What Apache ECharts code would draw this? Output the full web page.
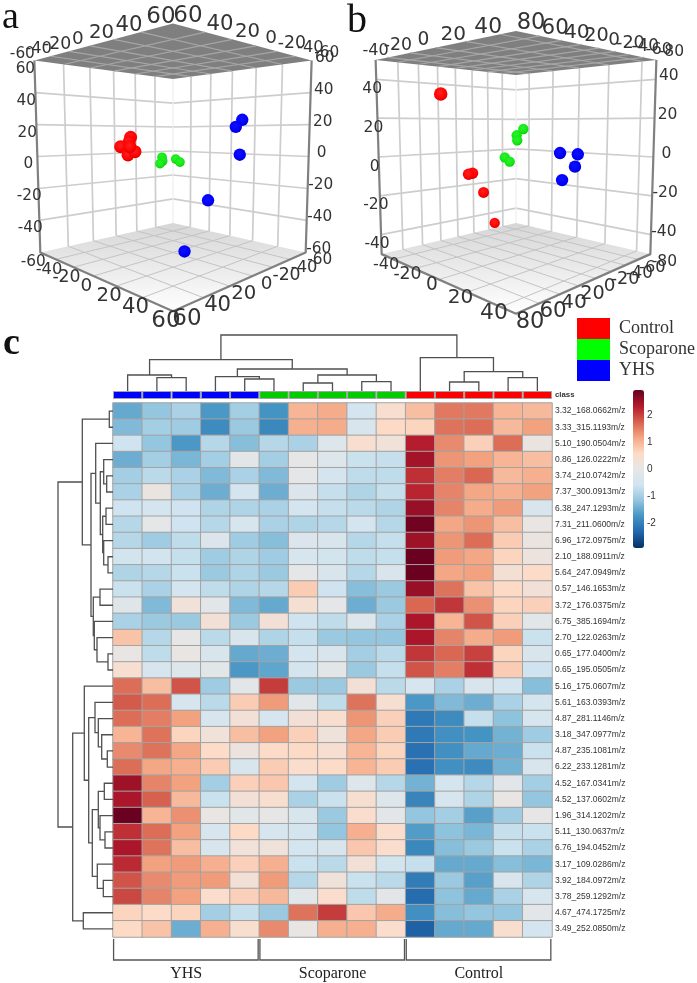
<!DOCTYPE html>
<html><head><meta charset="utf-8">
<style>html,body{margin:0;padding:0;background:#fff}#c{width:697px;height:983px}</style>
<script src="https://cdn.jsdelivr.net/npm/echarts@6/dist/echarts.min.js"></script>
</head><body><div id="c"></div>
<script>
// ---------- data ----------
const sampleClasses = ['YHS','YHS','YHS','YHS','YHS','Scoparone','Scoparone','Scoparone','Scoparone','Scoparone','Control','Control','Control','Control','Control'];
const features = ['3.32_168.0662m/z','3.33_315.1193m/z','5.10_190.0504m/z','0.86_126.0222m/z','3.74_210.0742m/z','7.37_300.0913m/z','6.38_247.1293m/z','7.31_211.0600m/z','6.96_172.0975m/z','2.10_188.0911m/z','5.64_247.0949m/z','0.57_146.1653m/z','3.72_176.0375m/z','6.75_385.1694m/z','2.70_122.0263m/z','0.65_177.0400m/z','0.65_195.0505m/z','5.16_175.0607m/z','5.61_163.0393m/z','4.87_281.1146m/z','3.18_347.0977m/z','4.87_235.1081m/z','6.22_233.1281m/z','4.52_167.0341m/z','4.52_137.0602m/z','1.96_314.1202m/z','5.11_130.0637m/z','6.76_194.0452m/z','3.17_109.0286m/z','3.92_184.0972m/z','3.78_259.1292m/z','4.67_474.1725m/z','3.49_252.0850m/z'];
const heatValues = [
[-1.5,-1.15,-.95,-1.7,-1,-1.75,1,1.1,-.5,.45,.9,1.55,1.55,1,.95],
[-1.3,-1,-1.05,-1.85,-1.1,-1.9,1.05,1.1,-.4,.6,.65,1.6,1.65,.95,1.2],
[-.6,-1.15,-1.7,-.85,-1.25,-.85,-.95,-.25,.45,.25,2.3,1.4,.7,1.65,.1],
[-1.45,-1,-1.35,-1,-.1,-1,0,-.25,-.65,-.7,2.45,1.3,1.2,1,.9],
[-1,-.8,-.95,-1.3,-.95,-1.3,-.05,-.5,-.75,-.75,2.15,1.5,1.7,.95,1.05],
[-.95,.1,-.95,-1.45,-.5,-1.45,-.3,-.7,-.9,-.7,2.25,1.45,1.15,1.05,1.2],
[-.6,-.5,-.6,-.9,-.9,-.95,-.5,-.7,-.8,-.9,2.55,1.45,1.1,1.25,-.35],
[-.85,-.05,-.6,-.85,-.45,-.95,-.9,-.85,-.5,-.85,2.85,1.15,1.3,.9,.05],
[-.85,-1.05,-.75,-.3,-1.05,-1.25,-.3,-.35,-.85,-.7,2.5,1.3,1.65,.75,.1],
[-.55,-.55,-.7,-1.05,-.9,-1.05,-.45,-.55,-.75,-.7,2.9,1.25,1.15,.65,.15],
[-.9,-.85,-.65,-1.1,-.9,-1.1,-.05,-.35,-.85,-.35,2.9,1.15,1.2,.35,.55],
[-.65,-.95,-.5,-.75,-.9,-.85,.75,-.6,-1.25,-1.1,2.55,1.6,.85,.6,.3],
[-.2,-1.3,.25,-.1,-1.3,-1.5,.35,-.05,-1.45,-1.1,1.7,2.1,1.35,.65,.7],
[-.95,-1.1,-1.1,.3,-1.1,.3,-.6,-.75,-.25,-.95,2.4,1,1.85,.7,-.15],
[.85,-.85,0,-.8,-.4,-.9,-.7,-1.1,-1.15,-1.15,2.4,1.45,1.1,1.25,-.65],
[.05,-.75,.05,-.35,-1.5,-1.45,-.5,-.35,-1,-.8,2.1,1.7,2,.65,-.4],
[.4,-.45,-.25,-.15,-1.7,-1.55,-.5,-.1,-1.1,-.7,1.85,1.5,2.15,.75,-.6],
[1.65,.9,1.85,-1.05,-.1,2.05,-1.1,-1.1,.3,-.8,-.45,-.95,-.4,-.5,-1.25],
[1.8,1.65,-.45,-.8,.75,1.25,-.15,-.75,1.6,.4,-1.7,-1.3,-1.45,-.95,-.5],
[1.65,1.5,1.2,-.45,.3,-.45,.3,.45,1.3,.7,-2.1,-1.85,-.7,-1.2,-.45],
[1,1.6,.65,.25,.9,1.2,.7,.2,1.15,.75,-2.1,-1.8,-1.75,-1.4,-1.05],
[1.4,1.6,1.15,.55,.15,.55,.6,.4,1,.65,-2.2,-1.8,-1.5,-1.45,-.65],
[1.65,1.15,1.05,.75,-.35,.75,.5,.55,1,.75,-2.2,-1.8,-1.85,-1.4,-.35],
[2.5,1.45,1.2,-1,.7,.8,-.5,-1.05,-.25,-.85,-1.4,-.5,-.85,-.1,-1],
[2.4,1.75,.95,-.65,.3,.45,-.95,-.65,.4,-.25,-1.95,-.45,-.9,.05,-1.15],
[2.9,1,1.35,.05,-.15,0,-.4,-1.1,.5,-.1,-1.15,-1,-1.6,-1.05,0],
[2.15,1.65,1.2,-.45,.6,-.45,-.5,-1.15,1.05,.5,-1.65,-1.2,-1.35,-.7,-.65],
[2.4,1.6,.9,-.35,.25,.2,-.5,-.4,.8,.5,-1.9,-1.25,-1.1,-.65,-.95],
[2.2,1.2,1.25,1.05,.7,1.05,-.65,-.8,.3,-.55,-.7,-1.5,-1.5,-1.25,-1.35],
[1.85,1.4,1.25,1.25,.3,1.25,-.85,.2,-.65,-.8,-2.05,-1.1,-1.6,-.4,-.9],
[1.95,1.45,1.2,.5,.7,.95,-.15,.5,-.75,-.1,-2.25,-1.2,-1.5,-.95,-.45],
[.65,.55,.65,-1,-.7,-1.1,1.6,2.05,.8,1.1,-1.8,-1.25,-1.15,-1.15,-.1],
[.6,.85,-1.45,1.05,.45,1.4,.05,1.05,1.05,.5,-2.4,-1.5,-1.5,.45,-.5]
];
// dendrograms: [height, childA, childB]; a plain number is a leaf index
const colTree = [56,
  [31.3,[16,0,[13.3,1,2]],[22,[14.3,3,[12,4,5]],[16,[8,6,7],[9.3,8,9]]]],
  [33.3,10,[19.3,[9,11,12],[13.3,13,14]]]];
const rowTree = [55,
  [30.7,[3.7,0,1],[22,
    [17.3,2,[12.7,[9.3,3,[6.3,4,5]],[10.3,[7,6,7],[9.3,8,[5,9,10]]]]],
    [19.7,[13,11,12],[18.7,13,[16,14,[5,15,16]]]]]],
  [40.3,
    [28.7,17,[24.3,
      [18,18,[14.7,19,[11.3,20,[5.7,21,22]]]],
      [20.7,[14.7,[8.7,23,24],[13,25,[8,26,27]]],[15.7,28,[9.7,29,30]]]]],
    [29.7,31,32]]];
// PCA scores (component 1, component 2, component 3)
const aControl = [[6.6,39.2,12.2],[6.1,39.8,9.8],[2.8,43.1,7.1],[5.6,40.3,2.6],[8.3,37.6,4.4],[6.3,39.5,7.1]];
const aScoparone = [[-36.2,-24.8,-2.9],[-35.9,-25.2,-5.6],[-37.3,-23.8,-7.6],[-29.2,-32,-4.2],[-26.9,-34.1,-6.4]];
const aYHS = [[43.1,-12.5,22.2],[40.5,-10,18.1],[42.3,-11.7,2.2],[29.6,1,-23.9],[20,10.5,-53.2]];
const bControl = [[-.1,76.2,30.1],[-17.9,25.4,-8.4],[-19.3,27.8,-8.9],[-21.5,8.6,-19.8],[-28.4,-14.2,-39.6]];
const bScoparone = [[-16.75,-33,14.1],[-19.4,-28.7,10.5],[-19.2,-29.1,7.6],[-24.25,-21,-2.1],[-22.25,-24.2,-4.6]];
const bYHS = [[24.8,-4.5,3.2],[30.8,-14,2.6],[29.9,-12.6,-3.3],[25.6,-5.7,-9.7]];
const aTicks = {u:[-60,-40,-20,0,20,40,60], v:[-60,-40,-20,0,20,40,60], w:[-60,-40,-20,0,20,40,60]};
const bTicks = {u:[-40,-20,0,20,40], v:[-80,-60,-40,-20,0,20,40,60,80], w:[-40,-20,0,20,40]};
const colorbarTicks = [-2,-1,0,1,2];
const groupOrder = ['YHS','Scoparone','Control'];
const legendOrder = ['Control','Scoparone','YHS'];

// ---------- helpers ----------
const classColor = {YHS:'#0000ff',Scoparone:'#00cc00',Control:'#ff0000'};
const sphere = {
  Control:['#ff2020','#ff0000','#d80000'],
  Scoparone:['#30f030','#10e810','#00c800'],
  YHS:['#1010ff','#0000f8','#0000d0']
};
const series = [];
function poly(gi, lines, style, z){
  series.push({type:'custom',coordinateSystem:'cartesian2d',xAxisIndex:gi,yAxisIndex:gi,silent:true,clip:false,z:z||2,
    data:lines.map(()=>[0,0]),
    renderItem:(p,api)=>({type:'polyline',shape:{points:lines[p.dataIndex].map(q=>api.coord(q))},style:Object.assign({fill:null},style)})});
}
function labels(gi, items, z){
  series.push({type:'custom',coordinateSystem:'cartesian2d',xAxisIndex:gi,yAxisIndex:gi,silent:true,clip:false,z:z||5,
    data:items.map(()=>[0,0]),
    renderItem:(p,api)=>{const t=items[p.dataIndex],c=api.coord([t.x,t.y]);
      return {type:'text',x:c[0],y:c[1],style:{text:t.text,font:t.font,fill:t.fill||'#333',align:'center',verticalAlign:'middle'}};}});
}
function treeLines(node, toPoint){
  const out=[];
  (function walk(n){
    if(typeof n==='number') return {pos:n+0.5,h:0};
    const a=walk(n[1]),b=walk(n[2]);
    out.push([toPoint(a.pos,a.h),toPoint(a.pos,n[0]),toPoint(b.pos,n[0]),toPoint(b.pos,b.h)]);
    return {pos:(a.pos+b.pos)/2,h:n[0]};
  })(node);
  return out;
}
function panel(gi, cam, rng, ticks, off, groups){
  const nu=x=>(x-rng.uc)/rng.uh, nv=x=>(x-rng.vc)/rng.vh, nw=x=>(x-rng.wc)/rng.wh;
  const proj=(u,v,w)=>{
    const d=(u+v)/Math.SQRT2,p=(u-v)/Math.SQRT2,s=cam.f/(cam.D-d);
    return [cam.cx+s*p*(1+cam.k*w), cam.cy-s*(w-cam.e*d), s];
  };
  const P=(u,v,w)=>proj(u,v,w).slice(0,2);
  // floor and ceiling
  const floorPts=[P(-1,1,-1),P(-1,-1,-1),P(1,-1,-1),P(1,1,-1)];
  series.push({type:'custom',coordinateSystem:'cartesian2d',xAxisIndex:gi,yAxisIndex:gi,silent:true,clip:false,z:1,data:[[0,0]],
    renderItem:(p,api)=>({type:'polygon',shape:{points:floorPts.map(q=>api.coord(q))},
      style:{fill:new echarts.graphic.LinearGradient(0,0,0,1,[{offset:0,color:'#d6d6d6'},{offset:1,color:'#ffffff'}])}})});
  const ceilPts=[P(-1,1,1),P(-1,-1,1),P(1,-1,1),P(1,1,1)];
  series.push({type:'custom',coordinateSystem:'cartesian2d',xAxisIndex:gi,yAxisIndex:gi,silent:true,clip:false,z:1,data:[[0,0]],
    renderItem:(p,api)=>({type:'polygon',shape:{points:ceilPts.map(q=>api.coord(q))},style:{fill:'#7f7f7f'}})});
  // wall grid
  const wall=[];
  ticks.w.forEach(t=>{const w=nw(t); if(Math.abs(w)<.999) wall.push([P(-1,1,w),P(-1,-1,w),P(1,-1,w)]);});
  ticks.v.forEach(t=>{const v=nv(t); if(Math.abs(v)<.999) wall.push([P(-1,v,-1),P(-1,v,1)]);});
  ticks.u.forEach(t=>{const u=nu(t); if(Math.abs(u)<.999) wall.push([P(u,-1,-1),P(u,-1,1)]);});
  poly(gi,wall,{stroke:'#cdcdcd',lineWidth:1.7});
  const fl=[],ce=[];
  ticks.u.forEach(t=>{const u=nu(t); if(Math.abs(u)<.999){fl.push([P(u,-1,-1),P(u,1,-1)]);ce.push([P(u,-1,1),P(u,1,1)]);}});
  ticks.v.forEach(t=>{const v=nv(t); if(Math.abs(v)<.999){fl.push([P(-1,v,-1),P(1,v,-1)]);ce.push([P(-1,v,1),P(1,v,1)]);}});
  poly(gi,fl,{stroke:'#c4c4c4',lineWidth:1});
  poly(gi,ce,{stroke:'#a6a6a6',lineWidth:1.2});
  poly(gi,[[P(-1,-1,1),P(-1,-1,-1)]],{stroke:'#efefef',lineWidth:1.2});
  poly(gi,[[P(-1,1,1),P(-1,1,-1),P(1,1,-1),P(1,-1,-1),P(1,-1,1)]],{stroke:'#808080',lineWidth:2.2,lineJoin:'round'});
  // tick labels
  const items=[];
  const add=(pos,o,text)=>items.push({x:pos[0]+o[0],y:pos[1]+o[1],text:String(text),font:(0.16*pos[2]).toFixed(1)+'px "DejaVu Sans"'});
  ticks.u.forEach(t=>{const u=nu(t); add(proj(u,1,-1),off.bl,t); add(proj(u,1,1),[-12,-7],t);});
  ticks.v.forEach(t=>{const v=nv(t); add(proj(1,v,-1),[14,8],t); add(proj(1,v,1),[15,-8],t);});
  ticks.w.forEach(t=>{const w=nw(t);
    if(w>-.999) add(proj(-1,1,w),off.left,t);
    add(proj(1,-1,w),[13,-3],t);
  });
  labels(gi,items,5);
  // score points
  groups.forEach(([name,rows])=>{
    const c=sphere[name];
    series.push({type:'scatter',name,xAxisIndex:gi,yAxisIndex:gi,z:6,silent:true,clip:false,
      data:rows.map(r=>{const q=proj(nu(r[0]),nv(r[1]),nw(r[2]));return [q[0],q[1],0.118*q[2]];}),
      symbolSize:d=>d[2],
      itemStyle:{opacity:1,color:{type:'radial',x:.45,y:.4,r:.6,colorStops:[{offset:0,color:c[0]},{offset:.75,color:c[1]},{offset:1,color:c[2]}]}}});
  });
}

// ---------- axes ----------
const hidden=(min,max,inverse)=>({type:'value',show:false,min,max,inverse:!!inverse});
const grids=[
  {left:113,top:403,width:439,height:534},   //0 heat
  {left:113,top:391,width:439,height:8},     //1 class strip
  {left:113,top:331,width:439,height:60},    //2 column tree
  {left:53,top:403,width:60,height:534},     //3 row tree
  {left:633,top:388,width:11,height:162},    //4 colour ticks
  {left:0,top:0,width:340,height:330},       //5 panel a
  {left:340,top:0,width:357,height:330},     //6 panel b
  {left:113,top:939,width:439,height:42}     //7 brackets
].map(g=>Object.assign({containLabel:false,show:false},g));
const xAxes=[
  {type:'category',data:sampleClasses.map((_,i)=>i),show:false},
  {type:'category',data:sampleClasses.map((_,i)=>i),show:false},
  hidden(0,15), hidden(0,60,true), hidden(0,1), hidden(0,340), hidden(0,357), hidden(0,15)
].map((a,i)=>Object.assign(a,{gridIndex:i}));
const yAxes=[
  {type:'category',data:features,inverse:true,position:'right',axisLine:{show:false},axisTick:{show:false},
   axisLabel:{interval:0,fontSize:8.5,margin:3,color:'#333',fontFamily:'Liberation Sans'}},
  hidden(0,1), hidden(0,60), hidden(0,33,true),
  {type:'value',min:-3,max:3,interval:1,position:'right',axisLine:{show:false},axisTick:{show:false},splitLine:{show:false},
   axisLabel:{margin:3,fontSize:10,color:'#333',fontFamily:'Liberation Sans',
     formatter:v=>colorbarTicks.includes(v)?String(v):''}},
  hidden(0,330,true), hidden(0,330,true), hidden(0,2,true)
].map((a,i)=>Object.assign(a,{gridIndex:i}));

// ---------- heatmap ----------
series.push({type:'heatmap',xAxisIndex:0,yAxisIndex:0,silent:true,z:2,
  data:heatValues.flatMap((row,r)=>row.map((v,c)=>[c,r,v])),
  itemStyle:{borderColor:'#a3a3a3',borderWidth:1},progressive:0});
series.push({type:'bar',xAxisIndex:1,yAxisIndex:1,barWidth:'100%',silent:true,
  data:sampleClasses.map(c=>({value:1,itemStyle:{color:classColor[c],borderColor:'#a3a3a3',borderWidth:1}}))});
poly(2,treeLines(colTree,(pos,h)=>[pos,h]),{stroke:'#505050',lineWidth:1.3});
poly(3,treeLines(rowTree,(pos,h)=>[h,pos]),{stroke:'#505050',lineWidth:1.3});

// ---------- group brackets ----------
const brackets=groupOrder.map(g=>{
  const a=sampleClasses.indexOf(g),b=sampleClasses.lastIndexOf(g)+1;
  return {name:g,a,b};
});
poly(7,brackets.map(k=>[[k.a+.02,0],[k.a+.02,1],[k.b-.04,1],[k.b-.04,0]]),{stroke:'#555',lineWidth:1.3});
labels(7,brackets.map(k=>({x:(k.a+k.b)/2,y:1.67,text:k.name,font:'16px "Liberation Serif"','fill':'#222'})));

// ---------- 3D panels ----------
panel(5,{cx:173,cy:156.5,f:407,D:4.243,e:.054,k:.022},{uc:0,uh:60,vc:0,vh:60,wc:0,wh:60},aTicks,{bl:[-7,10],left:[-9,8]},
  [['Control',aControl],['Scoparone',aScoparone],['YHS',aYHS]]);
panel(6,{cx:176,cy:157,f:439,D:4.52,e:.0767,k:.022},{uc:-2,uh:50,vc:0,vh:80,wc:0,wh:50},bTicks,{bl:[-7,6],left:[-4,9.5]},
  [['Control',bControl],['Scoparone',bScoparone],['YHS',bYHS]]);

const chart=echarts.init(document.getElementById('c'),null,{width:697,height:983});
chart.setOption({
  animation:false,backgroundColor:'#fff',
  grid:grids,xAxis:xAxes,yAxis:yAxes,series,
  legend:{orient:'vertical',left:577,top:318,padding:0,itemGap:0,itemWidth:33,itemHeight:21,selectedMode:false,
    textStyle:{fontFamily:'Liberation Serif',fontSize:18,color:'#333',padding:[0,0,0,4]},
    data:legendOrder.map(n=>({name:n,icon:'rect',itemStyle:{color:n==='Control'?'#ff0000':n==='Scoparone'?'#00ff00':'#0000ff',opacity:1}}))},
  visualMap:{type:'continuous',seriesIndex:series.findIndex(s=>s.type==='heatmap'),min:-2.93,max:2.93,left:633,top:390,padding:0,
    itemWidth:11,itemHeight:158,text:['',''],showLabel:false,calculable:false,hoverLink:false,
    inRange:{color:['#053061','#2166AC','#4393C3','#92C5DE','#D1E5F0','#E6E6E6','#FDDBC7','#F4A582','#D6604D','#B2182B','#67001F']}},
  graphic:[
    {type:'text',left:2,top:-1,style:{text:'a',font:'38px "Liberation Serif"',fill:'#111'}},
    {type:'text',left:347,top:1,style:{text:'b',font:'40px "Liberation Serif"',fill:'#111'}},
    {type:'text',left:3,top:325,style:{text:'c',font:'bold 38px "Liberation Serif"',fill:'#111'}},
    {type:'text',left:555,top:391,style:{text:'class',font:'bold 7.8px "Liberation Sans"',fill:'#333'}}
  ]
});
</script></body></html>
